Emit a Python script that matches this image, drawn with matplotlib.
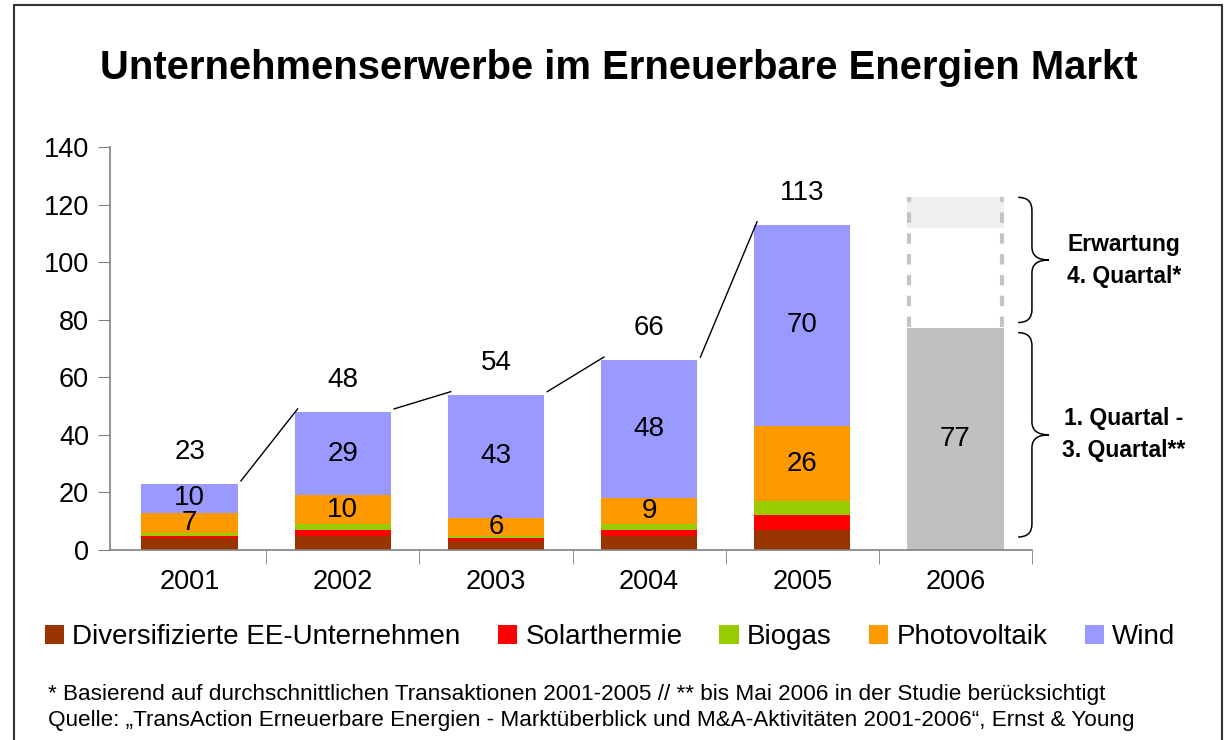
import matplotlib
matplotlib.use("Agg")
import matplotlib.pyplot as plt
import numpy as np
from matplotlib.path import Path
from matplotlib.patches import PathPatch, Rectangle

plt.rcParams['font.family'] = ['Liberation Sans', 'DejaVu Sans']

years = ['2001', '2002', '2003', '2004', '2005', '2006']
series_names = ['Diversifizierte EE-Unternehmen', 'Solarthermie', 'Biogas', 'Photovoltaik', 'Wind']
diversified = [4, 5, 3, 5, 7]
solar = [1, 2, 1, 2, 5]
biogas = [1, 2, 1, 2, 5]
photovoltaik = [7, 10, 6, 9, 26]
wind = [10, 29, 43, 48, 70]
totals = [23, 48, 54, 66, 113]
q1_q3_2006 = 77
expected_2006 = 122
series_colors = ['#993300', '#FF0000', '#99CC00', '#FF9900', '#9999FF']
labelled_series = {3: photovoltaik, 4: wind}

fig = plt.figure(figsize=(12.25, 7.40), dpi=100)
ax = fig.add_axes([0.0898, 0.2568, 0.7526, 0.5446])

x = np.arange(len(years))
w = 0.63
stack = [diversified, solar, biogas, photovoltaik, wind]
bottom = np.zeros(5)
for k, (vals, col) in enumerate(zip(stack, series_colors)):
    ax.bar(x[:5], vals, w, bottom=bottom, color=col, label=series_names[k], zorder=2)
    if k in labelled_series:
        for i, v in enumerate(vals):
            ax.text(x[i], bottom[i] + v / 2, str(v), ha='center', va='center', fontsize=20, zorder=4)
    bottom += np.array(vals)

# totals
for i, t in enumerate(totals):
    ax.text(x[i], t + 11, str(t), ha='center', va='center', fontsize=20)

# connector lines
for i in range(len(totals) - 1):
    ax.plot([x[i] + w / 2 + 0.02, x[i + 1] - w / 2 + 0.02], [totals[i] + 1, totals[i + 1] + 1],
            color='black', lw=1, zorder=3)

# 2006
ax.bar(x[5], q1_q3_2006, w, color='#C0C0C0', zorder=2)
ax.text(x[5], q1_q3_2006 / 2, str(q1_q3_2006), ha='center', va='center', fontsize=20)
ax.add_patch(Rectangle((x[5] - w / 2, expected_2006 - 10), w, 10.5, facecolor='#EFEFEF',
                       edgecolor='none', zorder=2))
for xe in (x[5] - w / 2 + 0.01, x[5] + w / 2 - 0.01):
    ax.plot([xe, xe], [q1_q3_2006 + 0.5, expected_2006 + 0.5], color='#C4C4C4', lw=3,
            linestyle=(0, (2.5, 2.5)), zorder=3)


def brace(ax, x0, y_top, y_bot, width):
    ym = (y_top + y_bot) / 2
    xa = x0
    xb = x0 + width * 0.45
    xt = x0 + width
    h = 4.5
    codes = [Path.MOVETO, Path.CURVE3, Path.CURVE3, Path.LINETO,
             Path.LINETO, Path.CURVE3, Path.CURVE3,
             Path.CURVE3, Path.CURVE3, Path.LINETO,
             Path.LINETO, Path.CURVE3, Path.CURVE3, Path.LINETO]
    v = [
        (xa, y_top),
        (xb, y_top), (xb, y_top - h),
        (xb, ym + h),
        (xb, ym + h),
        (xb, ym), (xt, ym),
        (xb, ym), (xb, ym - h),
        (xb, y_bot + h),
        (xb, y_bot + h),
        (xb, y_bot), (xa, y_bot),
        (xa, y_bot),
    ]
    p = PathPatch(Path(v, codes), facecolor='none', edgecolor='black', lw=1.1, clip_on=False)
    ax.add_patch(p)


brace(ax, 5.41, 122.5, 79, 0.2)
brace(ax, 5.41, 75.5, 4.5, 0.2)
ax.text(6.1, 100.5, 'Erwartung\n4. Quartal*', ha='center', va='center', fontsize=16.5,
        fontweight='bold', linespacing=1.5, clip_on=False)
ax.text(6.1, 40, '1. Quartal -\n3. Quartal**', ha='center', va='center', fontsize=16.5,
        fontweight='bold', linespacing=1.5, clip_on=False)

ax.set_xlim(-0.52, 5.5)
ax.set_ylim(0, 140)
ax.set_yticks(np.arange(0, 141, 20))
ax.set_xticks(x)
ax.set_xticklabels(years)
ax.set_xticks(np.arange(0.5, 5.6, 1), minor=True)
ax.tick_params(axis='x', which='major', length=0, labelsize=19.5, pad=14)
ax.tick_params(axis='x', which='minor', length=10, color='#808080', direction='out')
ax.tick_params(axis='y', length=9, color='#808080', labelsize=19.5, pad=6)
for s in ('top', 'right'):
    ax.spines[s].set_visible(False)
for s in ('left', 'bottom'):
    ax.spines[s].set_color('#808080')
    ax.spines[s].set_linewidth(1.2)

fig.text(0.505, 0.908, 'Unternehmenserwerbe im Erneuerbare Energien Markt', ha='center', va='center',
         fontsize=28.8, fontweight='bold')

handles = [Rectangle((0, 0), 1, 1, facecolor=c) for c in series_colors]
fig.legend(handles, series_names, loc='center', bbox_to_anchor=(0.498, 0.139), ncol=5, frameon=False,
           fontsize=20, handlelength=0.7, handleheight=0.7, handletextpad=0.3, columnspacing=1.33,
           borderpad=0)

fig.text(0.039, 0.062, '* Basierend auf durchschnittlichen Transaktionen 2001-2005 // ** bis Mai 2006 in der Studie berücksichtigt',
         ha='left', va='center', fontsize=16.2)
fig.text(0.039, 0.027, 'Quelle: \u201eTransAction Erneuerbare Energien - Marktüberblick und M&A-Aktivitäten 2001-2006\u201c, Ernst & Young',
         ha='left', va='center', fontsize=16.2)

fig.patches.append(Rectangle((14 / 1225, -0.01), (1222 - 14) / 1225, 1 - 5 / 740 + 0.01,
                             transform=fig.transFigure, fill=False, edgecolor='#333333', lw=1.5))

fig.savefig('out.png', dpi=100)
